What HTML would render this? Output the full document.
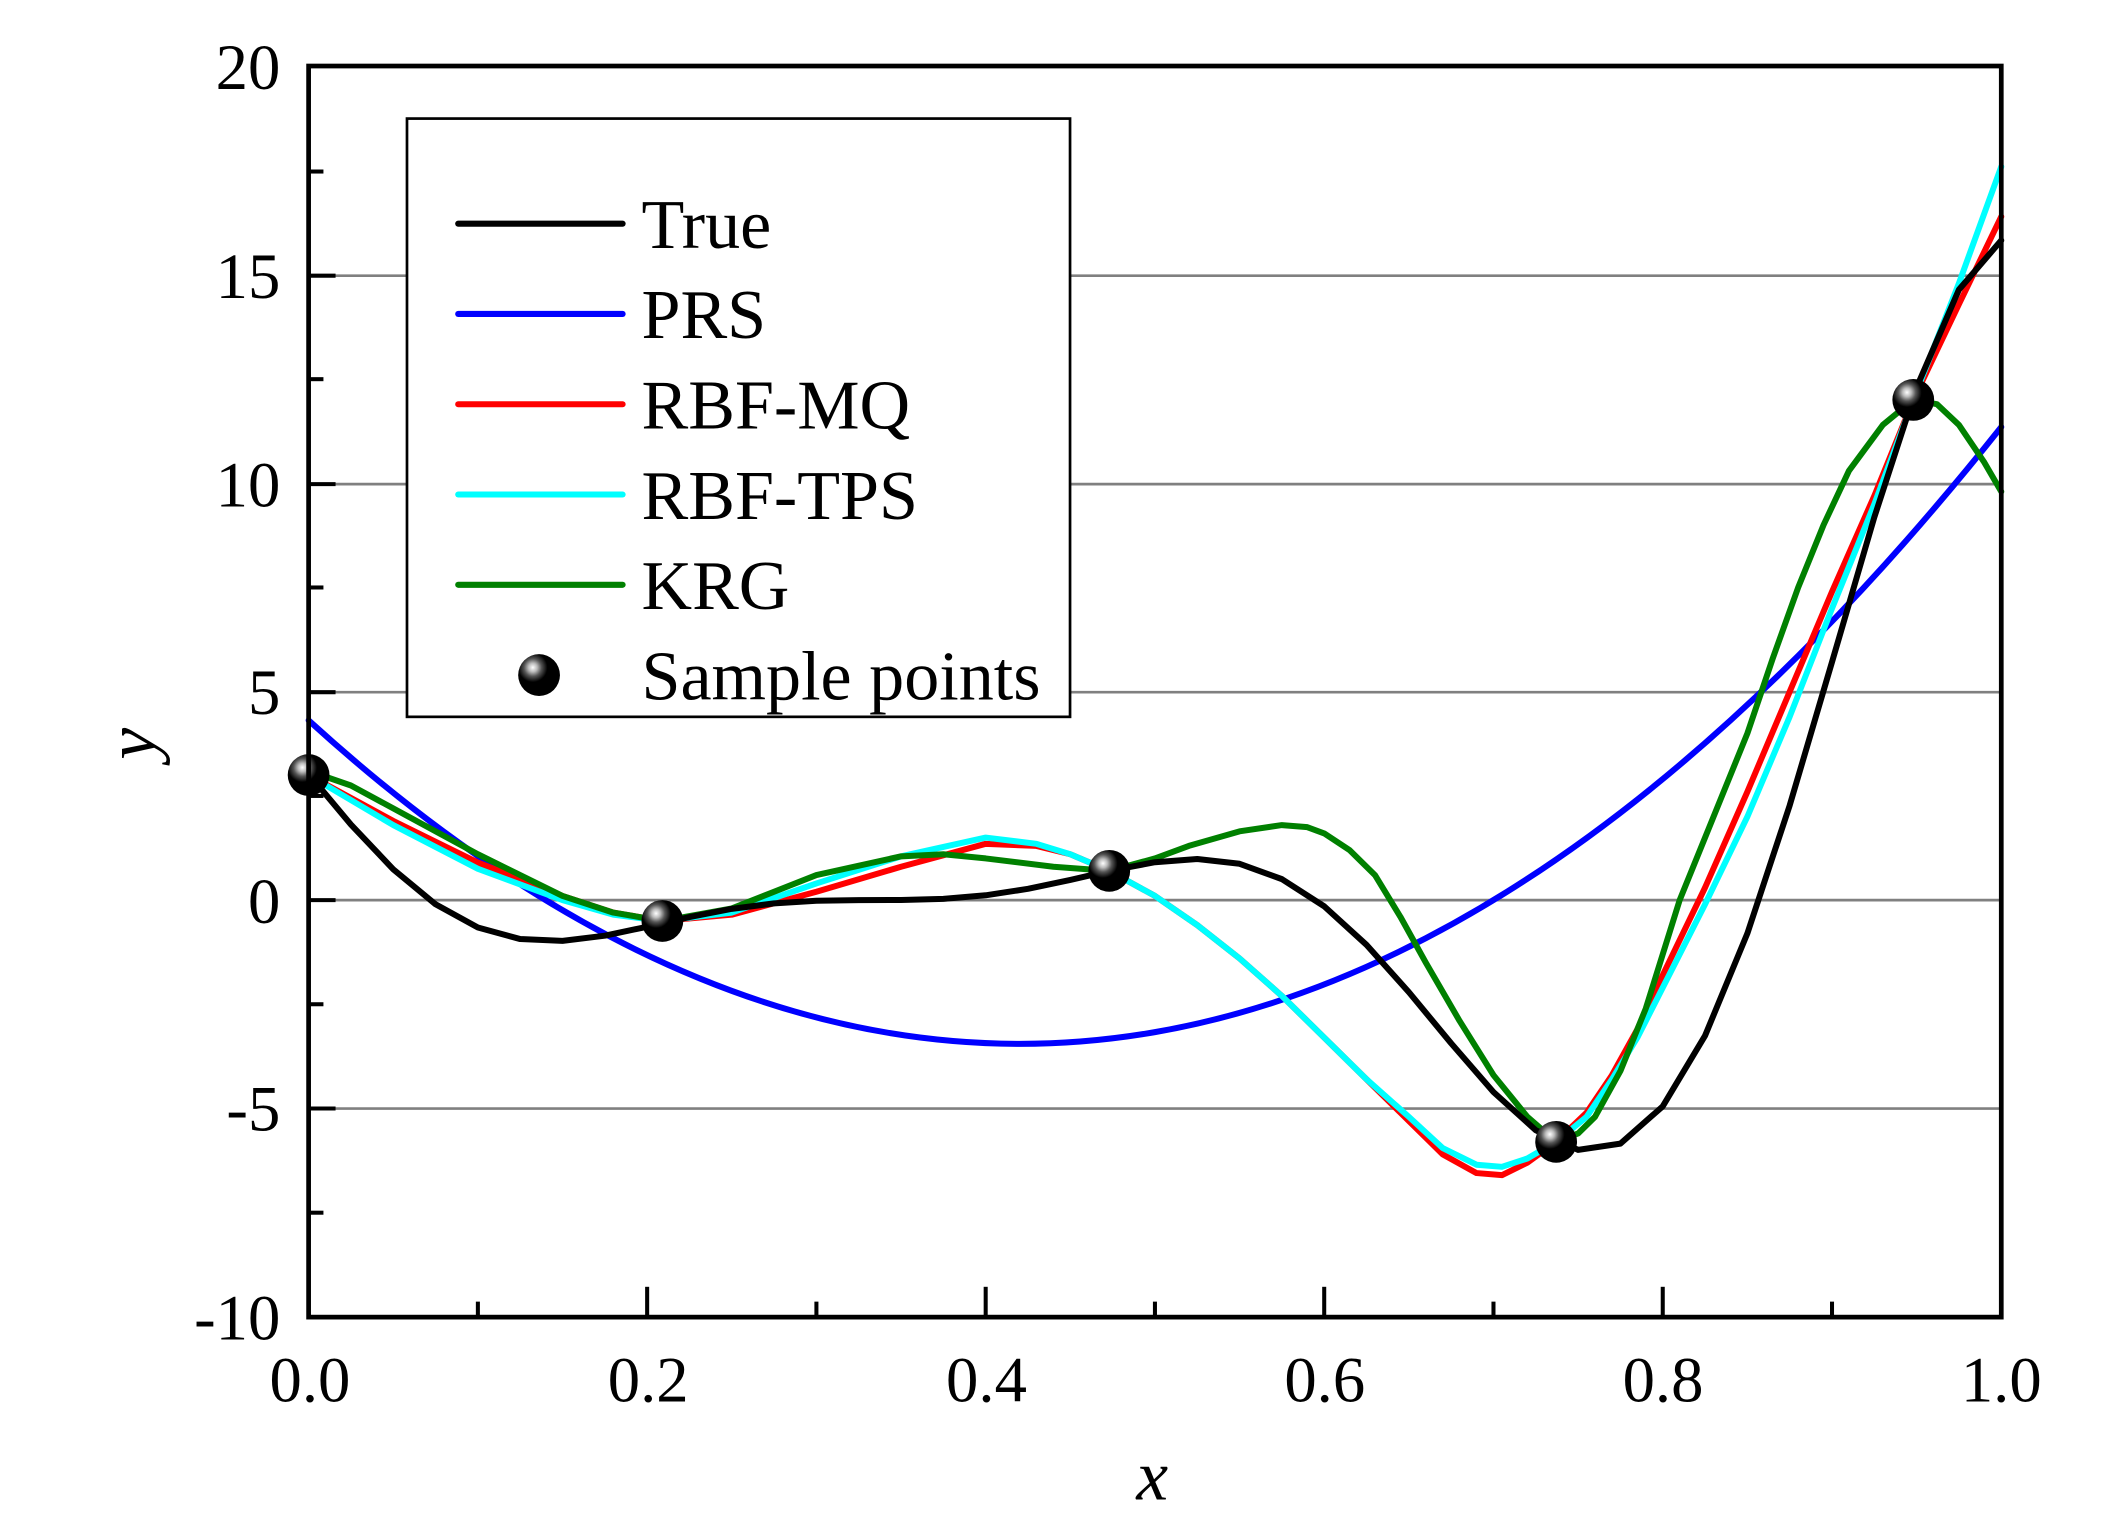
<!DOCTYPE html>
<html><head><meta charset="utf-8"><style>html,body{margin:0;padding:0;background:#fff}svg{display:block}</style></head>
<body>
<svg xmlns="http://www.w3.org/2000/svg" width="2101" height="1528" viewBox="0 0 1559 1134" preserveAspectRatio="none" font-family="Liberation Serif, serif">
<defs><radialGradient id="g" cx="0.35" cy="0.32" r="0.7"><stop offset="0" stop-color="#fff"/><stop offset="0.15" stop-color="#bbb"/><stop offset="0.3" stop-color="#555"/><stop offset="0.5" stop-color="#000"/><stop offset="1" stop-color="#000"/></radialGradient></defs>
<rect width="1559" height="1134" fill="#fff"/>
<g stroke="#808080" stroke-width="2">
<line x1="229" y1="204.6" x2="1485" y2="204.6"/>
<line x1="229" y1="359.3" x2="1485" y2="359.3"/>
<line x1="229" y1="513.7" x2="1485" y2="513.7"/>
<line x1="229" y1="668" x2="1485" y2="668"/>
<line x1="229" y1="822.7" x2="1485" y2="822.7"/>
</g>
<g transform="translate(229,668) scale(1256,-30.93)" fill="none" stroke-width="6" stroke-linejoin="round" stroke-linecap="round">
<path vector-effect="non-scaling-stroke" stroke="#0000ff" d="M0,4.3116 Q0.5,-14.168 1,11.3516"/>
<polyline vector-effect="non-scaling-stroke" stroke="#ff0000" points="0,3 0.05,1.9 0.1,0.9 0.15,0.1 0.18,-0.3 0.209,-0.5 0.25,-0.35 0.3,0.2 0.35,0.8 0.4,1.35 0.43,1.3 0.45,1.1 0.473,0.7 0.5,0.1 0.525,-0.6 0.55,-1.4 0.575,-2.3 0.6,-3.3 0.625,-4.3 0.65,-5.3 0.67,-6.1 0.69,-6.55 0.705,-6.6 0.72,-6.3 0.737,-5.8 0.755,-5.1 0.77,-4.2 0.785,-3.1 0.8,-1.8 0.825,0.3 0.85,2.6 0.875,5 0.9,7.4 0.925,9.7 0.948,12 0.975,14.3 1,16.4"/>
<polyline vector-effect="non-scaling-stroke" stroke="#00ffff" points="0,3 0.05,1.8 0.1,0.75 0.15,0 0.18,-0.35 0.209,-0.5 0.25,-0.3 0.3,0.4 0.35,1.05 0.4,1.5 0.43,1.35 0.45,1.1 0.473,0.7 0.5,0.1 0.525,-0.6 0.55,-1.4 0.575,-2.3 0.6,-3.3 0.625,-4.3 0.65,-5.2 0.67,-5.95 0.69,-6.35 0.705,-6.4 0.72,-6.2 0.737,-5.8 0.755,-5.2 0.77,-4.3 0.785,-3.3 0.8,-2.1 0.825,-0.1 0.85,2 0.875,4.4 0.9,7 0.925,9.5 0.948,12 0.975,14.8 1,17.6"/>
<polyline vector-effect="non-scaling-stroke" stroke="#008000" points="0,3.1 0.025,2.75 0.05,2.2 0.1,1.1 0.15,0.1 0.18,-0.3 0.209,-0.5 0.25,-0.2 0.3,0.6 0.35,1.05 0.375,1.1 0.4,1.0 0.44,0.8 0.473,0.7 0.5,1.0 0.52,1.3 0.55,1.65 0.575,1.8 0.59,1.75 0.6,1.6 0.615,1.2 0.63,0.6 0.645,-0.4 0.66,-1.5 0.68,-2.9 0.7,-4.2 0.72,-5.2 0.737,-5.8 0.75,-5.6 0.76,-5.2 0.775,-4.1 0.79,-2.6 0.81,0 0.83,2 0.85,4 0.865,5.8 0.88,7.5 0.895,9 0.91,10.3 0.93,11.4 0.948,12 0.962,11.9 0.975,11.4 0.99,10.5 1,9.8"/>
<polyline vector-effect="non-scaling-stroke" stroke="#000000" points="0,3.027 0.025,1.813 0.05,0.738 0.075,-0.1 0.1,-0.657 0.125,-0.935 0.15,-0.978 0.175,-0.854 0.2,-0.64 0.225,-0.407 0.25,-0.21 0.275,-0.079 0.3,-0.016 0.325,0 0.35,0.002 0.375,0.03 0.4,0.115 0.425,0.27 0.45,0.483 0.475,0.717 0.5,0.909 0.525,0.986 0.55,0.871 0.575,0.503 0.6,-0.149 0.625,-1.075 0.65,-2.208 0.675,-3.437 0.7,-4.606 0.725,-5.522 0.75,-5.993 0.775,-5.843 0.8,-4.949 0.825,-3.254 0.85,-0.799 0.875,2.272 0.9,5.712 0.925,9.187 0.95,12.303 0.975,14.648 1,15.83"/>
</g>
<g fill="url(#g)">
<circle cx="229" cy="575.2" r="15.5"/>
<circle cx="491.5" cy="683.5" r="15.5"/>
<circle cx="823.1" cy="646.3" r="15.5"/>
<circle cx="1154.7" cy="847.4" r="15.5"/>
<circle cx="1419.7" cy="296.8" r="15.5"/>
</g>
<rect x="302" y="88" width="492" height="444" fill="#fff" stroke="#000" stroke-width="2"/>
<g stroke-width="4.5" stroke-linecap="round">
<line x1="340" y1="166" x2="462" y2="166" stroke="#000"/>
<line x1="340" y1="233" x2="462" y2="233" stroke="#0000ff"/>
<line x1="340" y1="300" x2="462" y2="300" stroke="#ff0000"/>
<line x1="340" y1="367" x2="462" y2="367" stroke="#00ffff"/>
<line x1="340" y1="434" x2="462" y2="434" stroke="#008000"/>
</g>
<circle cx="400" cy="501" r="15.5" fill="url(#g)"/>
<g font-size="52" fill="#000">
<text x="476" y="184">True</text>
<text x="476" y="251">PRS</text>
<text x="476" y="318">RBF-MQ</text>
<text x="476" y="385">RBF-TPS</text>
<text x="476" y="452">KRG</text>
<text x="476" y="519">Sample points</text>
</g>
<rect x="229" y="49" width="1256" height="928.5" fill="none" stroke="#000" stroke-width="3.5"/>
<g stroke="#000" stroke-width="3">
<line x1="229" y1="49" x2="249" y2="49"/>
<line x1="229" y1="204.6" x2="249" y2="204.6"/>
<line x1="229" y1="359.3" x2="249" y2="359.3"/>
<line x1="229" y1="513.7" x2="249" y2="513.7"/>
<line x1="229" y1="668" x2="249" y2="668"/>
<line x1="229" y1="822.7" x2="249" y2="822.7"/>
<line x1="229" y1="127.3" x2="240" y2="127.3"/>
<line x1="229" y1="281.4" x2="240" y2="281.4"/>
<line x1="229" y1="436" x2="240" y2="436"/>
<line x1="229" y1="590.7" x2="240" y2="590.7"/>
<line x1="229" y1="745.3" x2="240" y2="745.3"/>
<line x1="229" y1="900" x2="240" y2="900"/>
<line x1="354.6" y1="977" x2="354.6" y2="966"/>
<line x1="480.2" y1="977" x2="480.2" y2="955"/>
<line x1="605.8" y1="977" x2="605.8" y2="966"/>
<line x1="731.4" y1="977" x2="731.4" y2="955"/>
<line x1="857" y1="977" x2="857" y2="966"/>
<line x1="982.6" y1="977" x2="982.6" y2="955"/>
<line x1="1108.2" y1="977" x2="1108.2" y2="966"/>
<line x1="1233.8" y1="977" x2="1233.8" y2="955"/>
<line x1="1359.4" y1="977" x2="1359.4" y2="966"/>
</g>
<g font-size="48" fill="#000" text-anchor="end">
<text x="208" y="66">20</text>
<text x="208" y="221">15</text>
<text x="208" y="376">10</text>
<text x="208" y="530">5</text>
<text x="208" y="685">0</text>
<text x="208" y="839">-5</text>
<text x="208" y="994">-10</text>
</g>
<g font-size="48" fill="#000" text-anchor="middle">
<text x="230" y="1040">0.0</text>
<text x="481" y="1040">0.2</text>
<text x="732" y="1040">0.4</text>
<text x="983" y="1040">0.6</text>
<text x="1234" y="1040">0.8</text>
<text x="1485" y="1040">1.0</text>
</g>
<text x="855" y="1113" font-size="53" font-style="italic" text-anchor="middle">x</text>
<text transform="translate(115,552) rotate(-90)" font-size="53" font-style="italic" text-anchor="middle">y</text>
</svg>
</body></html>
